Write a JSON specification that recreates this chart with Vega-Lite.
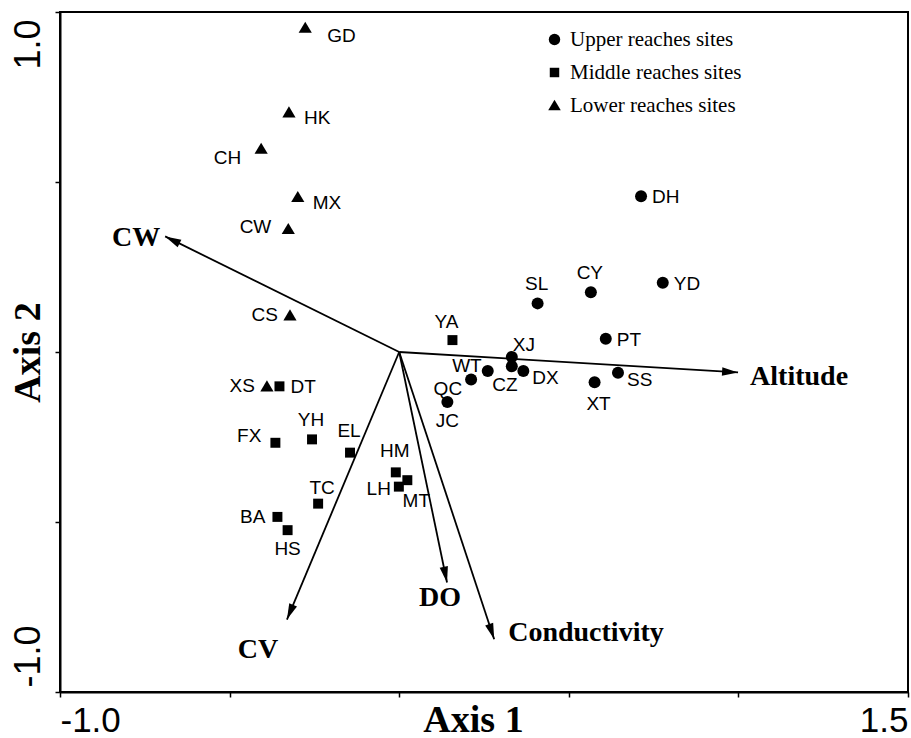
{
  "$schema": "https://vega.github.io/schema/vega-lite/v6.json",
  "width": 848,
  "height": 680,
  "autosize": {"type": "none"},
  "padding": {"left": 60, "top": 12, "right": 3, "bottom": 46},
  "background": "white",
  "config": {
    "view": {"stroke": "black", "strokeWidth": 2},
    "axis": {"grid": false},
    "text": {"font": "Liberation Sans", "fontSize": 19, "baseline": "middle", "color": "black"}
  },
  "datasets": {
    "sites": [
      {"site": "DH", "group": "Upper reaches sites", "x": 0.713, "y": 0.458},
      {"site": "CY", "group": "Upper reaches sites", "x": 0.565, "y": 0.176},
      {"site": "YD", "group": "Upper reaches sites", "x": 0.777, "y": 0.204},
      {"site": "SL", "group": "Upper reaches sites", "x": 0.408, "y": 0.143},
      {"site": "PT", "group": "Upper reaches sites", "x": 0.609, "y": 0.039},
      {"site": "XJ", "group": "Upper reaches sites", "x": 0.332, "y": -0.015},
      {"site": "CZ", "group": "Upper reaches sites", "x": 0.332, "y": -0.042},
      {"site": "DX", "group": "Upper reaches sites", "x": 0.366, "y": -0.056},
      {"site": "WT", "group": "Upper reaches sites", "x": 0.261, "y": -0.056},
      {"site": "QC", "group": "Upper reaches sites", "x": 0.212, "y": -0.081},
      {"site": "SS", "group": "Upper reaches sites", "x": 0.645, "y": -0.061},
      {"site": "XT", "group": "Upper reaches sites", "x": 0.576, "y": -0.089},
      {"site": "JC", "group": "Upper reaches sites", "x": 0.142, "y": -0.147},
      {"site": "YA", "group": "Middle reaches sites", "x": 0.157, "y": 0.035},
      {"site": "DT", "group": "Middle reaches sites", "x": -0.353, "y": -0.101},
      {"site": "FX", "group": "Middle reaches sites", "x": -0.365, "y": -0.267},
      {"site": "YH", "group": "Middle reaches sites", "x": -0.257, "y": -0.257},
      {"site": "EL", "group": "Middle reaches sites", "x": -0.145, "y": -0.296},
      {"site": "HM", "group": "Middle reaches sites", "x": -0.010, "y": -0.354},
      {"site": "MT", "group": "Middle reaches sites", "x": 0.024, "y": -0.377},
      {"site": "LH", "group": "Middle reaches sites", "x": -0.001, "y": -0.396},
      {"site": "TC", "group": "Middle reaches sites", "x": -0.239, "y": -0.446},
      {"site": "BA", "group": "Middle reaches sites", "x": -0.359, "y": -0.485},
      {"site": "HS", "group": "Middle reaches sites", "x": -0.329, "y": -0.524},
      {"site": "GD", "group": "Lower reaches sites", "x": -0.277, "y": 0.954},
      {"site": "HK", "group": "Lower reaches sites", "x": -0.325, "y": 0.705},
      {"site": "CH", "group": "Lower reaches sites", "x": -0.407, "y": 0.598},
      {"site": "MX", "group": "Lower reaches sites", "x": -0.299, "y": 0.456},
      {"site": "CW", "group": "Lower reaches sites", "x": -0.327, "y": 0.362},
      {"site": "CS", "group": "Lower reaches sites", "x": -0.322, "y": 0.108},
      {"site": "XS", "group": "Lower reaches sites", "x": -0.390, "y": -0.101}
    ],
    "vars": [
      {"var": "CW", "x": -0.690, "y": 0.340},
      {"var": "Altitude", "x": 0.999, "y": -0.060},
      {"var": "CV", "x": -0.331, "y": -0.787},
      {"var": "DO", "x": 0.141, "y": -0.678},
      {"var": "Conductivity", "x": 0.280, "y": -0.845}
    ]
  },
  "data": {"name": "sites"},
  "encoding": {
    "x": {"field": "x", "type": "quantitative", "scale": {"domain": [-1, 1.5], "nice": false, "zero": false},
      "title": "Axis 1",
      "axis": {
        "values": [-1, -0.5, 0, 0.5, 1, 1.5],
        "labelExpr": "datum.value == -1 ? '-1.0' : datum.value == 1.5 ? '1.5' : ''",
        "labelFlush": true, "labelOverlap": false,
        "labelFont": "Liberation Sans", "labelFontSize": 35, "labelColor": "black",
        "labelPadding": 6, "tickSize": 5, "tickColor": "black", "tickWidth": 1.5,
        "domainColor": "black", "domainWidth": 2,
        "titleFont": "Liberation Serif", "titleFontWeight": "bold", "titleFontSize": 38, "titleColor": "black",
        "titleX": 413, "titleY": 9, "titleBaseline": "top", "titleAlign": "center"
      }
    },
    "y": {"field": "y", "type": "quantitative", "scale": {"domain": [-1, 1], "nice": false, "zero": false},
      "title": "Axis 2",
      "axis": {
        "values": [-1, -0.5, 0, 0.5, 1],
        "labelExpr": "datum.value == -1 ? '-1.0' : datum.value == 1 ? '1.0' : ''",
        "labelOverlap": false, "labelAngle": -90,
        "labelAlign": {"condition": {"test": "datum.value > 0", "value": "right"}, "value": "left"},
        "labelOffset": {"condition": {"test": "datum.value > 0", "value": 7}, "value": -5},
        "labelBaseline": "bottom",
        "labelFont": "Liberation Sans", "labelFontSize": 36, "labelColor": "black",
        "labelPadding": 8, "tickSize": 5, "tickColor": "black", "tickWidth": 1.5,
        "domainColor": "black", "domainWidth": 2,
        "titleFont": "Liberation Serif", "titleFontWeight": "bold", "titleFontSize": 38, "titleColor": "black",
        "titleAngle": -90, "titleX": -13, "titleY": 340, "titleBaseline": "bottom", "titleAlign": "center"
      }
    }
  },
  "layer": [
    {
      "data": {"values": [{"ref": "vertical"}]},
      "mark": {"type": "rule", "color": "#888888", "strokeWidth": 1, "strokeDash": [1, 1]},
      "encoding": {
        "x": {"datum": 0, "type": "quantitative", "title": "Axis 1"},
        "y": {"datum": -1, "type": "quantitative", "title": "Axis 2"},
        "y2": {"datum": 1}
      }
    },
    {
      "data": {"values": [{"ref": "horizontal"}]},
      "mark": {"type": "rule", "color": "#888888", "strokeWidth": 1, "strokeDash": [1, 1]},
      "encoding": {
        "y": {"datum": 0, "type": "quantitative", "title": "Axis 2"},
        "x": {"datum": -1, "type": "quantitative", "title": "Axis 1"},
        "x2": {"datum": 1.5}
      }
    },
    {
      "data": {"name": "vars"},
      "mark": {"type": "rule", "color": "black", "strokeWidth": 1.8},
      "encoding": {"x2": {"datum": 0}, "y2": {"datum": 0}}
    },
    {
      "data": {"name": "vars"},
      "transform": [{"calculate": "atan2(datum.x * 339.2, datum.y * 340) * 180 / PI", "as": "ang"}],
      "mark": {"type": "point", "filled": true, "color": "black", "opacity": 1, "size": 400, "strokeWidth": 0, "shape": "M0,0L0.42,1.6L-0.42,1.6Z"},
      "encoding": {"angle": {"field": "ang", "type": "quantitative", "scale": null}}
    },
    {
      "mark": {"type": "point", "filled": true, "color": "black", "opacity": 1, "strokeWidth": 0, "size": 144},
      "encoding": {
        "shape": {"field": "group", "type": "nominal",
          "scale": {"domain": ["Upper reaches sites", "Middle reaches sites", "Lower reaches sites"],
            "range": ["circle", "M-0.83,-0.83L0.83,-0.83L0.83,0.83L-0.83,0.83Z", "M0,-1L1.1,0.85L-1.1,0.85Z"]},
          "legend": {"orient": "none", "legendX": 484, "legendY": 17, "title": null,
            "labelFont": "Liberation Serif", "labelFontSize": 21, "labelColor": "black", "labelLimit": 0,
            "symbolSize": 130, "symbolFillColor": "black", "symbolStrokeWidth": 0, "symbolOpacity": 1,
            "rowPadding": 11, "labelOffset": 5}
        }
      }
    },
    {"transform": [{"filter": {"field": "site", "oneOf": ["DT", "PT", "YD", "DH"]}}],
      "mark": {"type": "text", "align": "left", "dx": 11, "dy": 1}, "encoding": {"text": {"field": "site"}}},
    {"transform": [{"filter": {"field": "site", "oneOf": ["HK", "MX"]}}],
      "mark": {"type": "text", "align": "left", "dx": 15, "dy": 6}, "encoding": {"text": {"field": "site"}}},
    {"transform": [{"filter": {"field": "site", "oneOf": ["SS", "DX"]}}],
      "mark": {"type": "text", "align": "left", "dx": 9, "dy": 7}, "encoding": {"text": {"field": "site"}}},
    {"transform": [{"filter": {"field": "site", "oneOf": ["GD"]}}],
      "mark": {"type": "text", "align": "left", "dx": 22, "dy": 8}, "encoding": {"text": {"field": "site"}}},
    {"transform": [{"filter": {"field": "site", "oneOf": ["CS", "XS", "BA"]}}],
      "mark": {"type": "text", "align": "right", "dx": -12, "dy": 0}, "encoding": {"text": {"field": "site"}}},
    {"transform": [{"filter": {"field": "site", "oneOf": ["CW"]}}],
      "mark": {"type": "text", "align": "right", "dx": -17, "dy": -2}, "encoding": {"text": {"field": "site"}}},
    {"transform": [{"filter": {"field": "site", "oneOf": ["CH"]}}],
      "mark": {"type": "text", "align": "right", "dx": -20, "dy": 9}, "encoding": {"text": {"field": "site"}}},
    {"transform": [{"filter": {"field": "site", "oneOf": ["FX"]}}],
      "mark": {"type": "text", "align": "right", "dx": -14, "dy": -7}, "encoding": {"text": {"field": "site"}}},
    {"transform": [{"filter": {"field": "site", "oneOf": ["LH"]}}],
      "mark": {"type": "text", "align": "right", "dx": -8, "dy": 2}, "encoding": {"text": {"field": "site"}}},
    {"transform": [{"filter": {"field": "site", "oneOf": ["QC"]}}],
      "mark": {"type": "text", "align": "right", "dx": -9, "dy": 9}, "encoding": {"text": {"field": "site"}}},
    {"transform": [{"filter": {"field": "site", "oneOf": ["WT"]}}],
      "mark": {"type": "text", "align": "right", "dx": -6, "dy": -5}, "encoding": {"text": {"field": "site"}}},
    {"transform": [{"filter": {"field": "site", "oneOf": ["YH", "SL", "CY"]}}],
      "mark": {"type": "text", "align": "center", "dx": -1, "dy": -19}, "encoding": {"text": {"field": "site"}}},
    {"transform": [{"filter": {"field": "site", "oneOf": ["EL", "HM"]}}],
      "mark": {"type": "text", "align": "center", "dx": -1, "dy": -21.5}, "encoding": {"text": {"field": "site"}}},
    {"transform": [{"filter": {"field": "site", "oneOf": ["YA"]}}],
      "mark": {"type": "text", "align": "center", "dx": -6, "dy": -18.5}, "encoding": {"text": {"field": "site"}}},
    {"transform": [{"filter": {"field": "site", "oneOf": ["TC"]}}],
      "mark": {"type": "text", "align": "center", "dx": 4, "dy": -15.5}, "encoding": {"text": {"field": "site"}}},
    {"transform": [{"filter": {"field": "site", "oneOf": ["XJ"]}}],
      "mark": {"type": "text", "align": "left", "dx": 1, "dy": -12}, "encoding": {"text": {"field": "site"}}},
    {"transform": [{"filter": {"field": "site", "oneOf": ["HS", "JC"]}}],
      "mark": {"type": "text", "align": "center", "dx": 0, "dy": 19}, "encoding": {"text": {"field": "site"}}},
    {"transform": [{"filter": {"field": "site", "oneOf": ["XT"]}}],
      "mark": {"type": "text", "align": "center", "dx": 4, "dy": 22}, "encoding": {"text": {"field": "site"}}},
    {"transform": [{"filter": {"field": "site", "oneOf": ["CZ"]}}],
      "mark": {"type": "text", "align": "center", "dx": -7, "dy": 19}, "encoding": {"text": {"field": "site"}}},
    {"transform": [{"filter": {"field": "site", "oneOf": ["MT"]}}],
      "mark": {"type": "text", "align": "center", "dx": 9, "dy": 21}, "encoding": {"text": {"field": "site"}}},
    {"data": {"name": "vars"}, "transform": [{"filter": {"field": "var", "oneOf": ["CW"]}}],
      "mark": {"type": "text", "align": "right", "dx": -5, "dy": 2, "font": "Liberation Serif", "fontWeight": "bold", "fontSize": 28},
      "encoding": {"text": {"field": "var"}}},
    {"data": {"name": "vars"}, "transform": [{"filter": {"field": "var", "oneOf": ["Altitude"]}}],
      "mark": {"type": "text", "align": "left", "dx": 12, "dy": 5, "font": "Liberation Serif", "fontWeight": "bold", "fontSize": 28},
      "encoding": {"text": {"field": "var"}}},
    {"data": {"name": "vars"}, "transform": [{"filter": {"field": "var", "oneOf": ["CV"]}}],
      "mark": {"type": "text", "align": "center", "dx": -29, "dy": 30, "font": "Liberation Serif", "fontWeight": "bold", "fontSize": 28},
      "encoding": {"text": {"field": "var"}}},
    {"data": {"name": "vars"}, "transform": [{"filter": {"field": "var", "oneOf": ["DO"]}}],
      "mark": {"type": "text", "align": "center", "dx": -7, "dy": 15, "font": "Liberation Serif", "fontWeight": "bold", "fontSize": 28},
      "encoding": {"text": {"field": "var"}}},
    {"data": {"name": "vars"}, "transform": [{"filter": {"field": "var", "oneOf": ["Conductivity"]}}],
      "mark": {"type": "text", "align": "left", "dx": 14, "dy": -6, "font": "Liberation Serif", "fontWeight": "bold", "fontSize": 28},
      "encoding": {"text": {"field": "var"}}}
  ]
}
